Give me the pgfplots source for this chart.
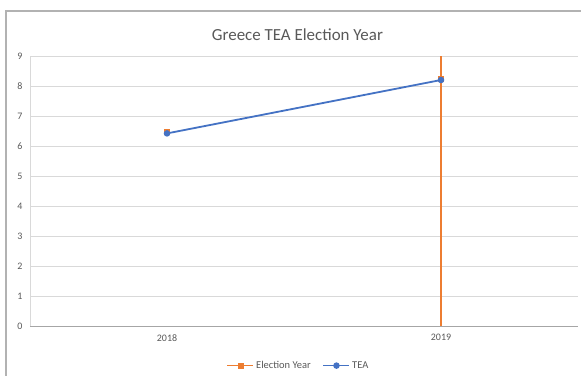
\documentclass[border=0pt]{standalone}
\usepackage{pgfplots}
\pgfplotsset{compat=1.18}
\usepackage{fontspec}
\setmainfont{Carlito}
\definecolor{tea}{HTML}{4472C4}
\definecolor{elec}{HTML}{ED7D31}
\definecolor{txt}{HTML}{595959}
\definecolor{grid}{HTML}{D9D9D9}
\begin{document}
\begin{tikzpicture}
\useasboundingbox (0bp,0bp) rectangle (581bp,376bp);
\fill[white] (0bp,0bp) rectangle (581bp,376bp);
\draw[line width=1.3bp, color=black!30] (6bp,0bp) -- (6bp,365bp) -- (581bp,365bp);
\begin{axis}[
  at={(30bp,50bp)}, anchor=south west,
  scale only axis, width=548bp, height=270bp,
  xmin=0, xmax=2, ymin=0, ymax=9,
  xtick={0.5,1.5}, xticklabels={2018,2019},
  ytick={0,1,...,9},
  axis x line*=bottom, axis y line*=left,
  axis line style={color=grid, line width=0.8bp},
  x axis line style={color=black!35},
  major tick length=0pt,
  ymajorgrids, grid style={color=grid, line width=0.8bp},
  tick label style={font=\fontsize{10}{12}\selectfont, color=txt},
  yticklabel style={xshift=-4bp},
  xticklabel style={yshift=-5bp},
  /pgf/number format/assume math mode=true,
  title={Greece TEA Election Year},
  title style={font=\fontsize{17}{20}\selectfont, color=txt, at={(0.488,1)}, yshift=6bp},
  clip=false,
  legend style={at={(0.49,-0.115)}, anchor=north, draw=none, font=\fontsize{10.5}{12}\selectfont, text=txt, legend columns=2, /tikz/every even column/.append style={column sep=10bp}},
]
\addplot[elec, line width=1.5bp, mark=square*, mark size=2bp, mark options={fill=elec}, forget plot, only marks] coordinates {(0.5,6.46) (1.5,8.24)};
\addplot[elec, line width=1.5bp,
  legend image code/.code={\draw[elec, line width=1.5bp] (0bp,0bp) -- (26bp,0bp); \fill[elec] (11bp,-2.2bp) rectangle (15.4bp,2.2bp);}]
  coordinates {(1.5,0) (1.5,9)};
\addlegendentry{Election Year}
\addplot[tea, line width=1.8bp, mark=*, mark size=2.3bp, mark options={fill=tea},
  legend image code/.code={\draw[tea, line width=1.5bp] (0bp,0bp) -- (26bp,0bp); \fill[tea] (13bp,0bp) circle (2.3bp);}]
  coordinates {(0.5,6.42) (1.5,8.2)};
\addlegendentry{TEA}
\end{axis}
\end{tikzpicture}
\end{document}
